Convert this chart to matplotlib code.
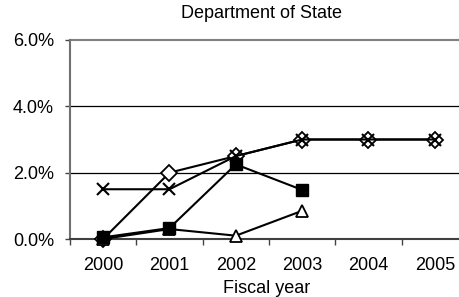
import matplotlib
matplotlib.use('Agg')
import matplotlib.pyplot as plt

plt.rcParams['font.family'] = ['Liberation Sans', 'DejaVu Sans']

years = ['2000', '2001', '2002', '2003', '2004', '2005']
series_x = [1.5, 1.5, 2.5, 3.0, 3.0, 3.0]
series_diamond = [0.0, 2.0, 2.5, 3.0, 3.0, 3.0]
series_square = [0.05, 0.33, 2.25, 1.48]
series_triangle = [0.0, 0.3, 0.1, 0.85]
y_ticks = [0, 2, 4, 6]

fig = plt.figure(figsize=(4.59, 2.97), dpi=100)
# plot area runs a little past the right edge, as in the source chart
ax = fig.add_axes([70 / 459, 1 - 239 / 297, 398 / 459, 199 / 297])

pos = list(range(len(years)))
ax.plot(pos, series_diamond, color='black', lw=1.5, marker='D', ms=8.5, mfc='white', mew=1.3, clip_on=False, zorder=3)
ax.plot(pos, series_x, color='black', lw=1.5, marker='x', ms=9, mew=1.5, clip_on=False, zorder=4)
ax.plot(pos[:4], series_triangle, color='black', lw=1.5, marker='^', ms=9, mfc='white', mew=1.3, clip_on=False, zorder=4)
ax.plot(pos[:4], series_square, color='black', lw=1.5, marker='s', ms=9, mfc='black', clip_on=False, zorder=5)

ax.set_xlim(-0.5, 5.5)
ax.set_ylim(0, 6)
ax.set_yticks(y_ticks)
ax.set_yticklabels(['%.1f%%' % v for v in y_ticks], fontsize=13)
ax.set_xticks(pos)
ax.set_xticklabels(years, fontsize=13)
ax.set_xticks([p - 0.5 for p in pos] + [5.5], minor=True)
ax.tick_params(axis='x', which='major', length=0, pad=13)
ax.tick_params(axis='x', which='minor', length=4, width=1, color='#444444')
ax.tick_params(axis='y', length=3.6, width=1, color='#444444', pad=8)

for v in y_ticks[1:-1]:
    ax.axhline(v, color='black', lw=0.9, zorder=1)
ax.axhline(6, color='#808080', lw=1.5, zorder=1, clip_on=False)
ax.spines['top'].set_visible(False)
ax.spines['right'].set_visible(False)
ax.spines['left'].set_color('#707070')
ax.spines['left'].set_linewidth(1.5)
ax.spines['bottom'].set_color('#404040')
ax.spines['bottom'].set_linewidth(1.5)

fig.text(261.5 / 459, 1 - 18 / 297, 'Department of State', fontsize=13, ha='center', va='baseline')
fig.text(267 / 459, 1 - 293 / 297, 'Fiscal year', fontsize=13, ha='center', va='baseline')

fig.savefig('out.png', dpi=100)
